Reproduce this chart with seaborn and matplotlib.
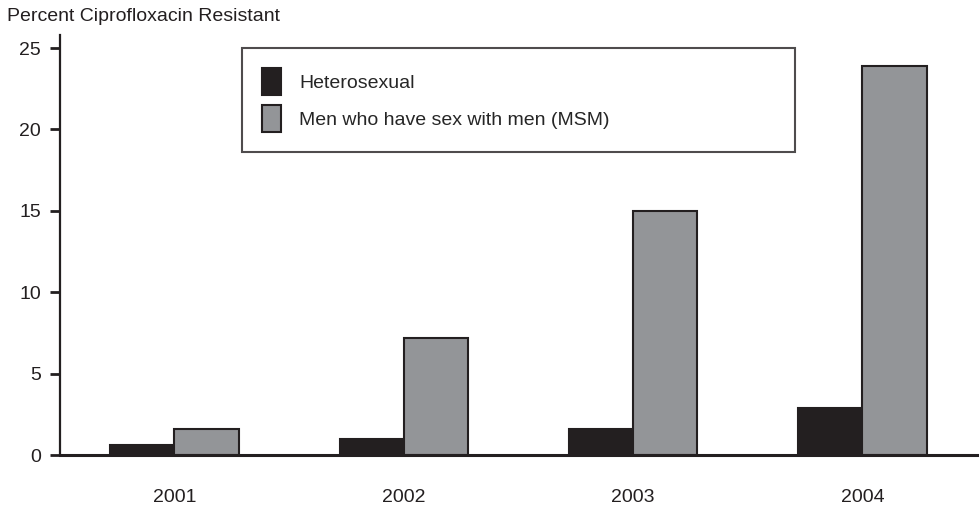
"""
plot.py
Percent of gonorrhea isolates resistant to ciprofloxacin, by year
and by sex of sex partner, drawn as grouped bars.
"""

import pandas as pd
import matplotlib.pyplot as plt
import seaborn as sns

#
#  Values
#

years = ['2001', '2002', '2003', '2004']
hetero = [0.6, 1.0, 1.6, 2.9]
msm = [1.6, 7.2, 15.0, 23.9]
groups = ['Heterosexual', 'Men who have sex with men (MSM)']
colors = ['#231f20', '#939598']

data = pd.DataFrame({
    'year': years * 2,
    'pct': hetero + msm,
    'group': [groups[0]] * len(years) + [groups[1]] * len(years),
})

sns.set_style('white')
plt.rcParams['font.family'] = ['Liberation Sans', 'DejaVu Sans']

fig = plt.figure(figsize=(9.8, 5.08), dpi=100)
ax = fig.add_axes([0.061, 0.104, 0.936, 0.827])

sns.barplot(data=data, x='year', y='pct', hue='group', order=years,
            hue_order=groups, palette=colors, width=0.56, gap=0,
            edgecolor='#231f20', linewidth=1.5, saturation=1, ax=ax)

ax.set_xlim(-0.5, 3.5)
ax.set_ylim(0, 25.8)
ax.set_yticks([0, 5, 10, 15, 20, 25])
ax.set_xlabel('')
ax.set_ylabel('')

sns.despine(ax=ax)
ax.spines['left'].set_linewidth(1.6)
ax.spines['bottom'].set_linewidth(2.2)
for s in ('left', 'bottom'):
    ax.spines[s].set_color('#231f20')

ax.tick_params(axis='y', length=7.5, width=2, pad=6, labelsize=14,
               colors='#231f20', left=True)
ax.tick_params(axis='x', length=0, pad=24, labelsize=14, colors='#231f20')

#
#  Legend in a wide box near the top
#

handles, labels = ax.get_legend_handles_labels()
leg = ax.legend(handles, labels, loc='upper left',
                bbox_to_anchor=(0.1985, 0.719, 0.603, 0.25), mode='expand',
                fontsize=14, handlelength=0.95, handleheight=1.7,
                handletextpad=0.95, labelspacing=0.55, borderpad=1.05,
                frameon=True, fancybox=False, borderaxespad=0)
leg.get_frame().set_edgecolor('#231f20')
leg.get_frame().set_linewidth(1.5)

fig.text(0.007, 0.985, 'Percent Ciprofloxacin Resistant', fontsize=14,
         color='#231f20', ha='left', va='top')

fig.savefig('out.png', dpi=100)
